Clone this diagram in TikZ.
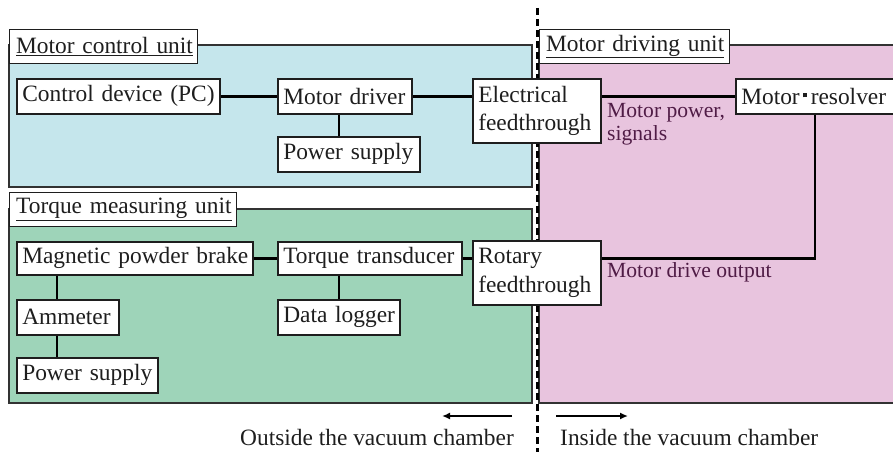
\documentclass[tikz,border=0pt]{standalone}
\usepackage{fontspec}
\setmainfont{Liberation Serif}
\usetikzlibrary{arrows.meta,calc}
\definecolor{cblue}{RGB}{197,230,236}
\definecolor{cgreen}{RGB}{158,212,185}
\definecolor{cpink}{RGB}{232,196,222}
\definecolor{txt}{RGB}{30,30,30}
\definecolor{notecol}{RGB}{80,28,70}
\definecolor{regline}{RGB}{50,50,50}
\definecolor{boxline}{RGB}{30,30,30}
\newcommand{\mydot}{\hspace{3.5pt}\rule[7pt]{4pt}{4pt}\hspace{3.5pt}}
\begin{document}
\begin{tikzpicture}[x=1pt,y=-1pt,
  every node/.style={font=\fontsize{23.4}{28.5}\selectfont, text=txt},
  blk/.style={draw=boxline, line width=1.5pt, fill=white, anchor=north west, align=left, inner xsep=5.5pt, inner ysep=0pt},
  lbl/.style={blk, line width=1.3pt, inner xsep=6.5pt},
  region/.style={draw=regline, line width=1.2pt},
  wire/.style={line width=2.8pt, draw=black},
  stub/.style={line width=2pt, draw=black},
  arr/.style={line width=2.5pt, -{Latex[length=8pt,width=7pt]}},
  note/.style={font=\fontsize{21.6}{23}\selectfont, text=notecol, inner sep=0pt, anchor=north west, align=left}]
\useasboundingbox (0,0) rectangle (893,452);
\begin{scope}
\clip (0,0) rectangle (893,452);
% regions
\draw[region, fill=cblue] (9,45) rectangle (532,187);
\draw[region, fill=cgreen] (9,209) rectangle (532,403);
\draw[region, fill=cpink] (539,45) rectangle (905,403);
% vacuum boundary
\coordinate (dtop) at (537,8);
\coordinate (dbot) at (537,452);
\draw[line width=3pt, dash pattern=on 7pt off 4pt] (dtop) -- (dbot);
% boxes
\node[blk, text width=192pt, minimum height=35pt] (ctrl) at (16,78) {\mbox{Control device (PC)}};
\node[blk, text width=123pt, minimum height=35pt] (drv) at (277,78) {\mbox{Motor driver}};
\node[blk, text width=131pt, minimum height=35pt] (ps1) at (277,136) {\mbox{Power supply}};
\node[blk, text width=117pt, minimum height=64pt] (eft) at (472,78) {\mbox{Electrical}\\\mbox{feedthrough}};
\node[blk, text width=159pt, minimum height=35pt] (mres) at (735,78) {\mbox{Motor\mydot resolver}};
\node[blk, text width=225pt, minimum height=33pt] (mpb) at (16,241) {\mbox{Magnetic powder brake}};
\node[blk, text width=173pt, minimum height=33pt] (tt) at (277,241) {\mbox{Torque transducer}};
\node[blk, text width=117pt, minimum height=64pt] (rft) at (472,240) {\mbox{Rotary}\\\mbox{feedthrough}};
\node[blk, text width=91pt, minimum height=35pt] (amm) at (16,299) {\mbox{Ammeter}};
\node[blk, text width=130pt, minimum height=35pt] (ps2) at (16,357) {\mbox{Power supply}};
\node[blk, text width=111pt, minimum height=35pt] (dlog) at (277,299) {\mbox{Data logger}};
% group labels
\node[lbl, text width=175pt, minimum height=34pt] (lmcu) at (9,29) {\mbox{\underline{Motor control unit}}};
\node[lbl, text width=177pt, minimum height=34pt] (lmdu) at (539,29) {\mbox{\underline{Motor driving unit}}};
\node[lbl, text width=214pt, minimum height=34pt] (ltmu) at (9,192) {\mbox{\underline{Torque measuring unit}}};
% connectors
\draw[wire] (ctrl.east) -- (drv.west);
\draw[wire] (drv.east) -- (drv.east -| eft.west);
\draw[wire] (mres.west) -- (mres.west -| eft.east);
\draw[stub] ([xshift=62pt]drv.south west) -- ([xshift=62pt]drv.south west |- ps1.north);
\draw[wire] (mpb.east) -- (tt.west);
\draw[wire] (tt.east) -- (tt.east -| rft.west);
\draw[stub] ([xshift=62pt]tt.south west) -- ([xshift=62pt]tt.south west |- dlog.north);
\draw[stub] ([xshift=41pt]mpb.south west) -- ([xshift=41pt]mpb.south west |- amm.north);
\draw[stub] ([xshift=41pt]amm.south west) -- ([xshift=41pt]amm.south west |- ps2.north);
\draw[wire] ([xshift=80pt]mres.south west) |- (rft.east |- tt.east);
% notes
\node[note] (nmp) at (607,103) {Motor power,\\signals};
\node[note, anchor=base west] (nmo) at (607,277) {Motor drive output};
% arrows and captions
\coordinate (aL1) at (512,416);
\coordinate (aL2) at (442,416);
\coordinate (aR1) at (556,416);
\coordinate (aR2) at (628,416);
\draw[arr] (aL1) -- (aL2);
\draw[arr] (aR1) -- (aR2);
\node[anchor=base west, inner sep=0pt] (tout) at (240,445) {Outside the vacuum chamber};
\node[anchor=base west, inner sep=0pt] (tin) at (560,445) {Inside the vacuum chamber};
\end{scope}
\end{tikzpicture}
\end{document}
